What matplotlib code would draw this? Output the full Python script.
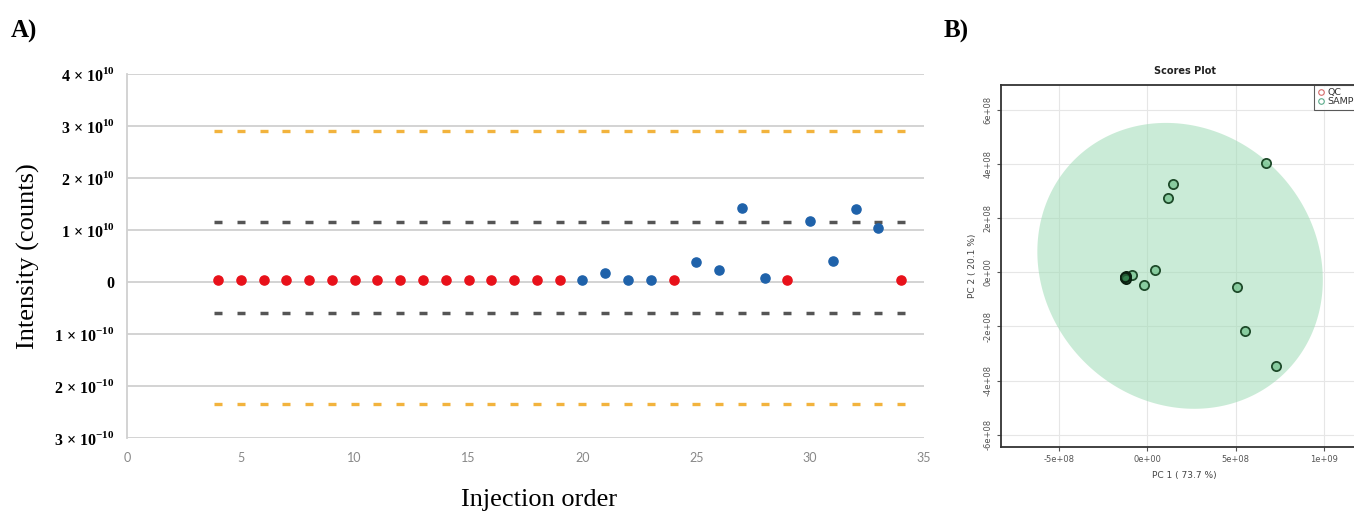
import numpy as np
import matplotlib
matplotlib.use("Agg")
import matplotlib.pyplot as plt
from matplotlib.lines import Line2D

plt.rcParams['mathtext.fontset'] = 'custom'
plt.rcParams['mathtext.rm'] = 'Liberation Serif'
plt.rcParams['mathtext.bf'] = 'Liberation Serif:bold'

# ---------------- Panel A data (intensity in units of 1e10) ----------------
qc_order = [4, 5, 6, 7, 8, 9, 10, 11, 12, 13, 14, 15, 16, 17, 18, 19, 24, 29, 34]
qc_int = [0.04] * 19
sample_order = [20, 21, 22, 23, 25, 26, 27, 28, 30, 31, 32, 33]
sample_int = [0.03, 0.17, 0.03, 0.03, 0.39, 0.24, 1.42, 0.07, 1.18, 0.40, 1.40, 1.04]
limit_x = list(range(4, 35))
outer_limits = [2.9, -2.35]
inner_limits = [1.15, -0.6]
a_yticks = [-3, -2, -1, 0, 1, 2, 3, 4]
a_yticklabels = ['3 × 10$^{\\mathbf{-10}}$', '2 × 10$^{\\mathbf{-10}}$', '1 × 10$^{\\mathbf{-10}}$', '0',
                 '1 × 10$^{\\mathbf{10}}$', '2 × 10$^{\\mathbf{10}}$', '3 × 10$^{\\mathbf{10}}$', '4 × 10$^{\\mathbf{10}}$']
a_xticks = [0, 5, 10, 15, 20, 25, 30, 35]

# ---------------- Panel B data (PCA scores) ----------------
pc1_sample = [6.7e8, 1.47e8, 1.15e8, 4.2e7, -1.9e7, -8.8e7, 5.1e8, 5.52e8, 7.27e8]
pc2_sample = [4.04e8, 3.28e8, 2.75e8, 9.6e6, -4.8e7, -1.0e7, -5.5e7, -2.17e8, -3.45e8]
pc1_qc = [-1.26e8, -1.22e8, -1.28e8, -1.24e8, -1.25e8]
pc2_qc = [-1.8e7, -1.5e7, -2.1e7, -2.4e7, -1.6e7]
ell_center = (1.85e8, 2.4e7)
ell_a, ell_b, ell_shear = 8.05e8, 5.28e8, -8.0e7
b_xticks = [-5e8, 0, 5e8, 1e9]
b_xticklabels = ['-5e+08', '0e+00', '5e+08', '1e+09']
b_yticks = [-6e8, -4e8, -2e8, 0, 2e8, 4e8, 6e8]
b_yticklabels = ['-6e+08', '-4e+08', '-2e+08', '0e+00', '2e+08', '4e+08', '6e+08']

W, H = 1354, 516
fig = plt.figure(figsize=(W / 100, H / 100), dpi=100)

# ---------------- Panel A ----------------
axA = fig.add_axes([127 / W, 1 - 438 / H, 797 / W, 364 / H])
axA.set_xlim(0, 35)
axA.set_ylim(-3, 4)
for yv in a_yticks:
    axA.axhline(yv, color='#d0d0d0', lw=1.3, zorder=0)
for s in ['top', 'right', 'bottom']:
    axA.spines[s].set_visible(False)
axA.spines['left'].set_color('#d0d0d0')
axA.spines['left'].set_linewidth(1.3)

for yv in outer_limits:
    axA.plot(limit_x, [yv] * len(limit_x), linestyle='none', marker='_', markersize=5.8,
             markeredgewidth=2.4, color='#F2B33D', zorder=2)
for yv in inner_limits:
    axA.plot(limit_x, [yv] * len(limit_x), linestyle='none', marker='_', markersize=6.2,
             markeredgewidth=2.5, color='#555555', zorder=2)

axA.plot(sample_order, sample_int, linestyle='none', marker='o', markersize=6.6,
         color='#1F62AA', zorder=3)
axA.plot(qc_order, qc_int, linestyle='none', marker='o', markersize=6.6,
         color='#E8111A', zorder=3)

axA.set_yticks(a_yticks)
axA.set_yticklabels(a_yticklabels, fontfamily='Liberation Serif', fontweight='bold', fontsize=11.5)
axA.set_xticks(a_xticks)
axA.set_xticklabels([str(v) for v in a_xticks], fontfamily='Lato', fontsize=9, color='#888888')
axA.tick_params(axis='y', length=0, pad=9)
axA.tick_params(axis='x', length=0, pad=10)
axA.set_ylabel('Intensity (counts)', fontfamily='Liberation Serif', fontsize=19, labelpad=10)
fig.text(539 / W, 1 - 500 / H, 'Injection order', fontfamily='Liberation Serif', fontsize=19,
         ha='center', va='center')
fig.text(11 / W, 1 - 31 / H, 'A)', fontfamily='Liberation Serif', fontweight='bold', fontsize=18,
         ha='left', va='center')
fig.text(944 / W, 1 - 31 / H, 'B)', fontfamily='Liberation Serif', fontweight='bold', fontsize=18,
         ha='left', va='center')

# ---------------- Panel B ----------------
axB = fig.add_axes([1001 / W, 1 - 446.7 / H, 367 / W, 361.7 / H])
axB.set_xlim(-8.3e8, 1.25e9)
axB.set_ylim(-6.44e8, 6.92e8)
axB.set_facecolor('white')
axB.grid(True, color='#e6e6e6', lw=0.8, zorder=0)
axB.set_axisbelow(True)

t = np.linspace(0, 2 * np.pi, 300)
ex = ell_center[0] + ell_a * np.cos(t) + ell_shear * np.sin(t)
ey = ell_center[1] + ell_b * np.sin(t)
axB.fill(ex, ey, color='#9fdcb6', alpha=0.55, lw=0, zorder=1)

axB.scatter(pc1_sample, pc2_sample, s=44, facecolor=(0.36, 0.72, 0.48, 0.6),
            edgecolor='#1e4a2a', linewidths=1.3, zorder=3)
axB.scatter(pc1_qc, pc2_qc, s=44, facecolor=(0.2, 0.5, 0.3, 0.6),
            edgecolor='#0a1f10', linewidths=1.3, zorder=4)

axB.set_xticks(b_xticks)
axB.set_xticklabels(b_xticklabels)
axB.set_yticks(b_yticks)
axB.set_yticklabels(b_yticklabels, rotation=90, va='center')
axB.tick_params(labelsize=6, labelcolor='#555555', length=3, width=0.8, color='#555555', pad=3)
for s in ['left', 'bottom', 'top', 'right']:
    axB.spines[s].set_color('#333333')
    axB.spines[s].set_linewidth(1.3)
axB.set_xlabel('PC 1 ( 73.7 %)', fontsize=6.5, color='#444444', labelpad=5)
axB.set_ylabel('PC 2 ( 20.1 %)', fontsize=6.5, color='#444444', labelpad=5)
axB.set_title('Scores Plot', fontsize=7, fontweight='bold', color='#222222', pad=8)

handles = [Line2D([], [], linestyle='none', marker='o', markersize=4, markerfacecolor='none',
                  markeredgecolor='#d46a6a', markeredgewidth=0.8),
           Line2D([], [], linestyle='none', marker='o', markersize=4, markerfacecolor='none',
                  markeredgecolor='#5aaa8a', markeredgewidth=0.8)]
leg = axB.legend(handles, ['QC', 'SAMPLE'], loc='upper right', bbox_to_anchor=(1.0, 1.0),
                 borderaxespad=0, fontsize=6.8, frameon=True, fancybox=False,
                 handletextpad=0.2, borderpad=0.35, labelspacing=0.0, handlelength=0.8)
leg.get_frame().set_edgecolor('#333333')
leg.get_frame().set_linewidth(0.8)
for txt in leg.get_texts():
    txt.set_color('#333333')

fig.savefig('out.png', dpi=100)
